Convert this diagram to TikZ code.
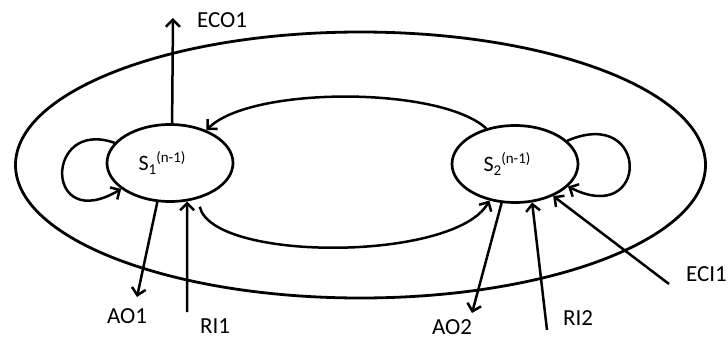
\documentclass[tikz,border=0pt]{standalone}
\usepackage{fontspec}
\setmainfont{Carlito}
\usetikzlibrary{arrows.meta,shapes.geometric}
\tikzset{
  lbl/.style={font=\fontsize{23}{26}\selectfont, inner sep=0pt},
  state/.style={draw, ellipse, line width=2.7pt, minimum width=126pt, minimum height=77pt, inner sep=0pt, font=\fontsize{22}{24}\selectfont},
  conn/.style={line width=2.5pt, -{Straight Barb[length=7pt,width=14pt,line width=2.5pt]}},
}
\newcommand{\stlabel}[1]{S\raisebox{-4pt}{\fontsize{15}{16}\selectfont #1}\raisebox{8pt}{\fontsize{15}{16}\selectfont (n-1)}}
\begin{document}
\begin{tikzpicture}[x=1pt,y=-1pt]
\useasboundingbox (0,0) rectangle (728,340);
\node[draw, ellipse, line width=2.8pt, minimum width=690pt, minimum height=266pt, inner sep=0pt] (outer) at (360.5,165) {};
\node[state] (s1) at (170,163) {\stlabel{1}\hspace*{16pt}};
\node[state] (s2) at (515,164) {\stlabel{2}\hspace*{16pt}};
\coordinate (eco1e) at (173,18);
\coordinate (ao1e) at (137,297);
\coordinate (ri1s) at (187,312);
\coordinate (ao2e) at (472,313);
\coordinate (ri2s) at (547,330);
\coordinate (eci1s) at (669,284);
\node[lbl] (teco1) at (222,20) {ECO1};
\node[lbl] (tao1) at (127,316) {AO1};
\node[lbl] (tri1) at (215,326) {RI1};
\node[lbl] (tao2) at (452,327) {AO2};
\node[lbl] (tri2) at (578,318) {RI2};
\node[lbl, anchor=east] (teci1) at (727,274) {ECI1};
% connectors
\draw[conn] (s1.87) -- (eco1e);
\draw[conn] (s1.-108) -- (ao1e);
\draw[conn] (ri1s) -- (s1.-66);
\draw[conn] (s2.-109) -- (ao2e);
\draw[conn] (ri2s) -- (s2.-66);
\draw[conn] (eci1s) -- (s2.-40);
\draw[conn] (s2.129) .. controls (440,86) and (250,86) .. (s1.42);
\draw[conn, shorten <=8pt] (s1.-52) .. controls (212,262) and (455,262) .. (s2.-125);
\draw[conn] (s1.160) .. controls (44,118) and (44,235) .. (s1.208);
\draw[conn] (s2.24) .. controls (650,105) and (650,228) .. (s2.-23);
\end{tikzpicture}
\end{document}
